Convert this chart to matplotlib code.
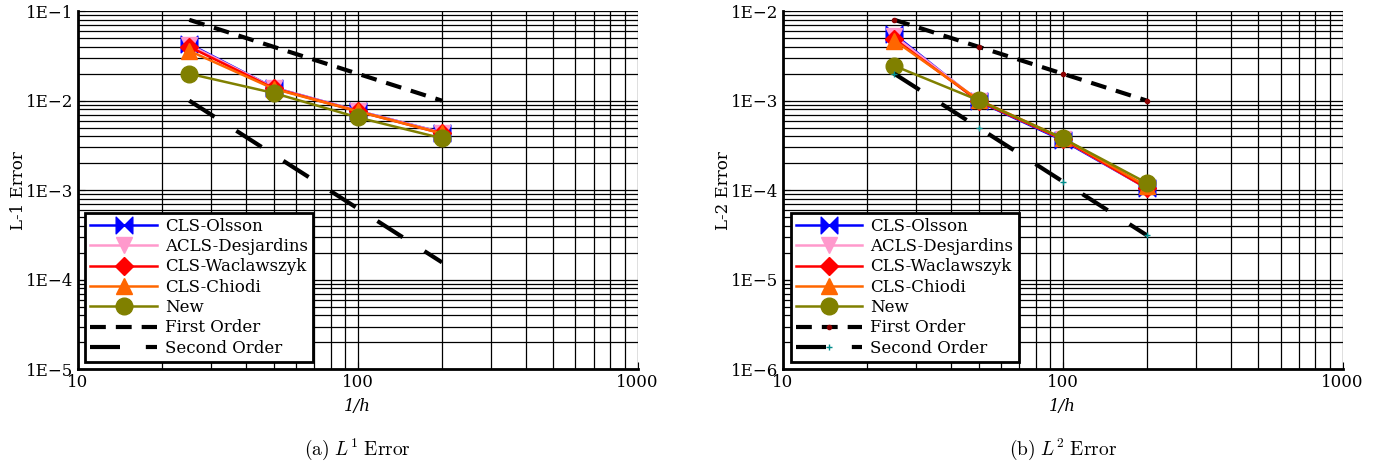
import numpy as np
import matplotlib.pyplot as plt
from matplotlib.path import Path
from matplotlib.ticker import FixedLocator, FuncFormatter, LogLocator, NullFormatter

plt.rcParams['font.family'] = 'DejaVu Serif'
plt.rcParams['mathtext.fontset'] = 'cm'

inv_h = [25, 50, 100, 200]

# L1 error
l1_olsson = [0.043, 0.0140, 0.0077, 0.0044]
l1_desjardins = [0.042, 0.0140, 0.0077, 0.0044]
l1_waclawszyk = [0.040, 0.0138, 0.0076, 0.0043]
l1_chiodi = [0.036, 0.0136, 0.0076, 0.0043]
l1_new = [0.020, 0.0122, 0.0065, 0.0038]
l1_first = [0.08, 0.04, 0.02, 0.01]
l1_second = [0.01, 0.0025, 0.000625, 0.00015625]

# L2 error
l2_olsson = [0.0055, 0.00098, 0.00036, 0.000105]
l2_desjardins = [0.0053, 0.00100, 0.00037, 0.000105]
l2_waclawszyk = [0.0049, 0.00099, 0.00037, 0.000105]
l2_chiodi = [0.0047, 0.00102, 0.00038, 0.000110]
l2_new = [0.00245, 0.00101, 0.00038, 0.000120]
l2_first = [0.008, 0.004, 0.002, 0.001]
l2_second = [0.002, 0.0005, 0.000125, 0.00003125]

# bow-tie marker: two triangles meeting at the centre
bowtie = Path([(-1, 1), (0, 0), (-1, -1), (-1, 1), (1, 1), (0, 0), (1, -1), (1, 1)],
              [Path.MOVETO, Path.LINETO, Path.LINETO, Path.CLOSEPOLY,
               Path.MOVETO, Path.LINETO, Path.LINETO, Path.CLOSEPOLY])


def draw(ax, data, ylim, ylabel, caption, ref_markers):
    olsson, desj, wacl, chiodi, new, first, second = data
    ax.plot(inv_h, olsson, color='#0000ff', lw=1.8, marker=bowtie, ms=12, label='CLS-Olsson')
    ax.plot(inv_h, desj, color='#ff99cc', lw=1.8, marker='v', ms=12, label='ACLS-Desjardins')
    ax.plot(inv_h, wacl, color='#ff0000', lw=1.8, marker='D', ms=9, label='CLS-Waclawszyk')
    ax.plot(inv_h, chiodi, color='#ff6600', lw=1.8, marker='^', ms=12, label='CLS-Chiodi')
    ax.plot(inv_h, new, color='#808000', lw=1.8, marker='o', ms=12, label='New')
    if ref_markers:
        m1 = dict(marker='o', ms=3, mfc='#8b0000', mec='#8b0000')
        m2 = dict(marker='+', ms=4, mec='#008b8b', mew=1)
    else:
        m1, m2 = {}, {}
    ax.plot(inv_h, first, color='black', lw=3, dashes=(3.8, 2.4), label='First Order', **m1)
    ax.plot(inv_h, second, color='black', lw=3, dashes=(7.2, 6.2), label='Second Order', **m2)

    ax.set_xscale('log')
    ax.set_yscale('log')
    ax.set_xlim(10, 1000)
    ax.set_ylim(*ylim)
    ax.xaxis.set_major_locator(FixedLocator([10, 100, 1000]))
    ax.xaxis.set_major_formatter(FuncFormatter(lambda v, p: f'{int(round(v))}'))
    ax.xaxis.set_minor_locator(LogLocator(base=10, subs=np.arange(2, 10)))
    ax.xaxis.set_minor_formatter(NullFormatter())
    ax.yaxis.set_major_locator(LogLocator(base=10, numticks=10))
    ax.yaxis.set_major_formatter(FuncFormatter(
        lambda v, p: f'1E\u2212{int(round(-np.log10(v)))}'))
    ax.yaxis.set_minor_locator(LogLocator(base=10, subs=np.arange(2, 10), numticks=10))
    ax.yaxis.set_minor_formatter(NullFormatter())
    ax.grid(True, which='both', color='black', lw=0.9)
    ax.tick_params(which='both', direction='in', labelsize=12, color='black')
    ax.tick_params(which='major', length=5)
    ax.tick_params(which='minor', length=3)
    for s in ['top', 'right']:
        ax.spines[s].set_visible(False)
    for s in ['left', 'bottom']:
        ax.spines[s].set_linewidth(2)
    ax.set_xlabel('1/h', style='italic', fontsize=12, labelpad=5)
    ax.set_ylabel(ylabel, fontsize=12, labelpad=-1)
    leg = ax.legend(loc='lower left', fontsize=12, handlelength=4.0, fancybox=False,
                    framealpha=1, edgecolor='black', borderpad=0.3, labelspacing=0.2,
                    handletextpad=0.5, borderaxespad=0.45)
    leg.get_frame().set_linewidth(2)
    ax.text(0.5, -0.225, caption, transform=ax.transAxes, ha='center', va='center', fontsize=14)


fig = plt.figure(figsize=(13.92, 4.65), dpi=100)
ax1 = fig.add_axes([0.056, 0.206, 0.402, 0.77])
ax2 = fig.add_axes([0.5625, 0.206, 0.402, 0.77])

draw(ax1, [l1_olsson, l1_desjardins, l1_waclawszyk, l1_chiodi, l1_new, l1_first, l1_second],
     (1e-5, 1e-1), 'L-1 Error', r'$\mathrm{(a)}\ L^1\ \mathrm{Error}$', False)
draw(ax2, [l2_olsson, l2_desjardins, l2_waclawszyk, l2_chiodi, l2_new, l2_first, l2_second],
     (1e-6, 1e-2), 'L-2 Error', r'$\mathrm{(b)}\ L^2\ \mathrm{Error}$', True)

fig.savefig('out.png', dpi=100)
